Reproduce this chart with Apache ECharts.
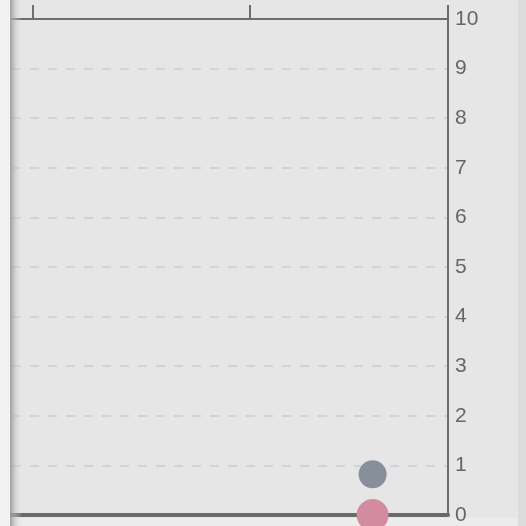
<!DOCTYPE html>
<html>
<head>
<meta charset="utf-8">
<script src="https://cdn.jsdelivr.net/npm/echarts@6/dist/echarts.min.js"></script>
<style>
html,body{margin:0;padding:0;background:#e6e6e6;}
#c{width:526px;height:526px;}
</style>
</head>
<body>
<div id="c"></div>
<script>
// Data
var seriesNames = ['Gray', 'Pink'];
var grayX = [1.565];
var grayY = [0.82];
var pinkX = [1.565];
var pinkY = [0];
var xTicks = [0, 1];
var yTicks = [0, 1, 2, 3, 4, 5, 6, 7, 8, 9, 10];

var xMin = -0.0968, xMax = 1.9124;

var chart = echarts.init(document.getElementById('c'));
chart.setOption({
  backgroundColor: '#e6e6e6',
  animation: false,
  grid: {left: 12, right: 78, top: 19, bottom: 11, containLabel: false},
  xAxis: [{
    type: 'value', position: 'top', min: xMin, max: xMax,
    axisLine: {show: true, onZero: false, lineStyle: {color: '#6e6e6e', width: 2}},
    axisTick: {show: true, length: 14, lineStyle: {color: '#6e6e6e', width: 2}, customValues: xTicks.concat([xMax])},
    axisLabel: {show: false},
    splitLine: {show: false}
  }, {
    type: 'value', position: 'bottom', min: xMin, max: xMax,
    axisLine: {show: true, onZero: false, lineStyle: {color: '#6a6a6a', width: 4}},
    axisTick: {show: false}, axisLabel: {show: false}, splitLine: {show: false}
  }],
  yAxis: {
    type: 'value', position: 'right', min: 0, max: 10, interval: 1,
    axisLine: {show: true, onZero: false, lineStyle: {color: '#6e6e6e', width: 2}},
    axisTick: {show: false},
    axisLabel: {
      color: '#666666', fontSize: 21, fontFamily: 'Liberation Sans, Arial, sans-serif', margin: 7,
      formatter: function (v) { return yTicks.indexOf(v) >= 0 ? String(v) : ''; }
    },
    splitLine: {show: true, lineStyle: {color: '#d2d2de', width: 2, type: [9, 9]}}
  },
  series: [{
    name: seriesNames[0], type: 'scatter', xAxisIndex: 0,
    data: grayX.map(function (x, i) { return [x, grayY[i]]; }),
    symbolSize: 28, itemStyle: {color: '#87909a', opacity: 1}, z: 3
  }, {
    name: seriesNames[1], type: 'scatter', xAxisIndex: 0,
    data: pinkX.map(function (x, i) { return [x, pinkY[i]]; }),
    symbolSize: 32, itemStyle: {color: '#d38ba0', opacity: 1}, z: 1
  }],
  graphic: [
    {type: 'rect', shape: {x: 0, y: 0, width: 10, height: 526}, style: {fill: '#f2f2f2'}, z: 100},
    {type: 'rect', shape: {x: 10, y: 0, width: 12, height: 526},
     style: {fill: new echarts.graphic.LinearGradient(0, 0, 1, 0, [
       {offset: 0, color: 'rgba(150,150,150,0.9)'},
       {offset: 1, color: 'rgba(230,230,230,0)'}
     ])}, z: 100},
    {type: 'rect', shape: {x: 518, y: 0, width: 8, height: 526}, style: {fill: '#dcdcdc'}, z: 100},
    {type: 'rect', shape: {x: 0, y: 518, width: 526, height: 8}, style: {fill: 'rgba(240,240,240,0.6)'}, z: 0}
  ]
});
</script>
</body>
</html>
